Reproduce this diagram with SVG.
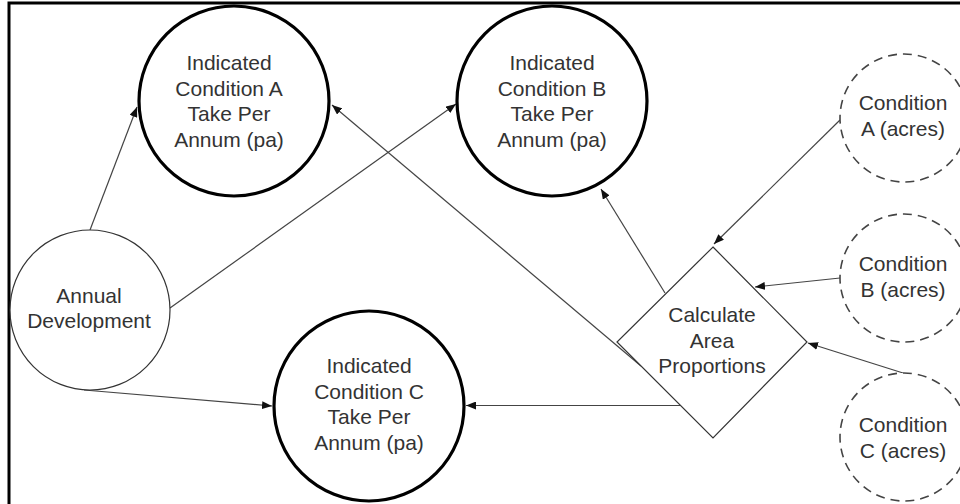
<svg xmlns="http://www.w3.org/2000/svg" width="960" height="504" viewBox="0 0 960 504">
  <defs>
    <style>
      .lbl { font-family: "Liberation Sans", Arial, sans-serif; font-size: 21px; fill: #333; text-anchor: middle; }
      .bold { fill: #fff; stroke: #000; stroke-width: 3.2; }
      .plain { fill: #fff; stroke: #333; stroke-width: 1.2; }
      .dash { fill: #fff; stroke: #444; stroke-width: 1.6; stroke-dasharray: 9 6; }
      .conn line { stroke: #444; stroke-width: 1.2; fill: none; }
      .arrow { marker-end: url(#head); }
    </style>
    <marker id="head" viewBox="0 0 10 8" refX="10" refY="4" markerWidth="10" markerHeight="8" markerUnits="userSpaceOnUse" orient="auto">
      <path d="M0,0 L10,4 L0,8 Z" fill="#111"/>
    </marker>
  </defs>

  <rect width="960" height="504" fill="#fff"/>
  <!-- frame -->
  <rect x="9" y="3" width="1000" height="600" fill="none" stroke="#000" stroke-width="3"/>

  <!-- connectors -->
  <g id="connectors" class="conn">
    <line class="arrow" x1="90" y1="230" x2="137" y2="107"/>
    <line class="arrow" x1="170" y1="308" x2="456" y2="104"/>
    <line class="arrow" x1="84" y1="390" x2="272" y2="406"/>
    <line class="arrow" x1="641" y1="366" x2="332" y2="105"/>
    <line class="arrow" x1="665" y1="293" x2="601" y2="189"/>
    <line class="arrow" x1="680" y1="405.5" x2="466" y2="405.5"/>
    <line class="arrow" x1="840" y1="120" x2="714" y2="244"/>
    <line class="arrow" x1="840" y1="278" x2="755" y2="287"/>
    <line class="arrow" x1="903" y1="373" x2="808" y2="343"/>
  </g>

  <g id="cond-a-take">
    <circle class="bold" cx="234" cy="101" r="95"/>
    <text class="lbl" x="229" y="70">Indicated</text>
    <text class="lbl" x="229" y="95.5">Condition A</text>
    <text class="lbl" x="229" y="121">Take Per</text>
    <text class="lbl" x="229" y="146.5">Annum (pa)</text>
  </g>

  <g id="cond-b-take">
    <circle class="bold" cx="552" cy="101" r="95"/>
    <text class="lbl" x="552" y="70">Indicated</text>
    <text class="lbl" x="552" y="95.5">Condition B</text>
    <text class="lbl" x="552" y="121">Take Per</text>
    <text class="lbl" x="552" y="146.5">Annum (pa)</text>
  </g>

  <g id="cond-c-take">
    <circle class="bold" cx="369" cy="406" r="95"/>
    <text class="lbl" x="369" y="373">Indicated</text>
    <text class="lbl" x="369" y="398.5">Condition C</text>
    <text class="lbl" x="369" y="424">Take Per</text>
    <text class="lbl" x="369" y="449.5">Annum (pa)</text>
  </g>

  <g id="annual-development">
    <circle class="plain" cx="90" cy="310" r="80"/>
    <text class="lbl" x="89" y="303">Annual</text>
    <text class="lbl" x="89" y="328">Development</text>
  </g>

  <g id="calculate-area">
    <polygon class="plain" points="713,247 807,342 713,438 617,342"/>
    <text class="lbl" x="712" y="322">Calculate</text>
    <text class="lbl" x="712" y="347.5">Area</text>
    <text class="lbl" x="712" y="373">Proportions</text>
  </g>

  <g id="cond-a-acres">
    <circle class="dash" cx="904" cy="118" r="64"/>
    <text class="lbl" x="903" y="110">Condition</text>
    <text class="lbl" x="903" y="136">A (acres)</text>
  </g>

  <g id="cond-b-acres">
    <circle class="dash" cx="904" cy="278" r="64"/>
    <text class="lbl" x="903" y="271">Condition</text>
    <text class="lbl" x="903" y="297">B (acres)</text>
  </g>

  <g id="cond-c-acres">
    <circle class="dash" cx="904" cy="437" r="64"/>
    <text class="lbl" x="903" y="432">Condition</text>
    <text class="lbl" x="903" y="458">C (acres)</text>
  </g>
</svg>
